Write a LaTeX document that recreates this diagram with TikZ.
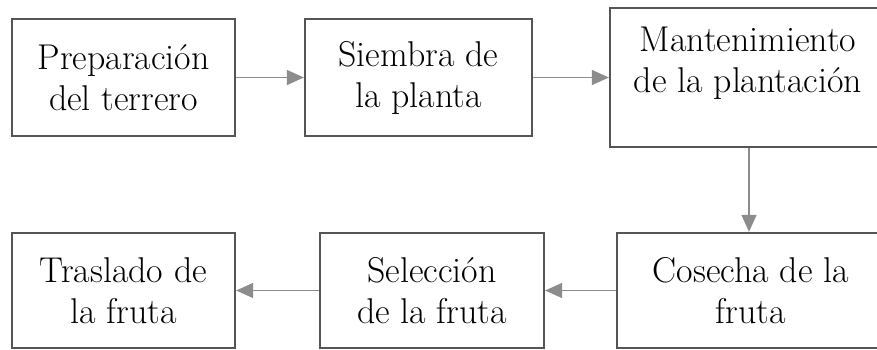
\documentclass[tikz,border=0pt]{standalone}
\usetikzlibrary{arrows.meta}

\tikzset{
  paso/.style={draw=r85g85b85, line width=0.046cm, align=center, inner sep=0pt,
    font=\fontsize{20.4}{23.3}\selectfont},
  flecha/.style={draw=r140g140b140, line width=0.026cm,
    -{Triangle[length=0.34cm,width=0.30cm]}, fill=r140g140b140}
}
\definecolor{r85g85b85}{rgb}{0.333333,0.333333,0.333333}%
\definecolor{r140g140b140}{rgb}{0.549020,0.549020,0.549020}%

\begin{document}
\begin{tikzpicture}
                        \useasboundingbox (0.000000,0.000000) rectangle (17.540000,6.980000);
                        \clip (0.000000,0.000000) rectangle (17.540000,6.980000);

                        % Drawing first row
                        \node [paso, minimum width=4.460000cm, minimum height=2.340000cm] (prep) at (2.470000,5.430000) {Preparación\\del terrero};%
                        \node [paso, minimum width=4.540000cm, minimum height=2.340000cm] (siembra) at (8.370000,5.430000) {Siembra de\\la planta};%
                        \node [paso, minimum width=5.560000cm, minimum height=2.780000cm] (mant) at (14.980000,5.430000) {};%
                        \node [align=center, inner sep=0pt, font=\fontsize{20.4}{23.3}\selectfont] (mant-txt) at (14.960000,5.720000) {Mantenimiento\\de la plantación};%

                        % Drawing second row
                        \node [paso, minimum width=5.360000cm, minimum height=2.300000cm] (cosecha) at (15.020000,1.170000) {Cosecha de la\\fruta};%
                        \node [paso, minimum width=4.480000cm, minimum height=2.300000cm] (selec) at (8.640000,1.170000) {Selección\\de la fruta};%
                        \node [paso, minimum width=4.460000cm, minimum height=2.300000cm] (traslado) at (2.470000,1.170000) {Traslado de\\la fruta};%

                        % Drawing arrows
                        \draw [flecha] (prep.east) -- (siembra.west);%
                        \draw [flecha] (siembra.east) -- (mant.west);%
                        \draw [flecha] (mant.south) -- (mant.south |- cosecha.north);%
                        \draw [flecha] (cosecha.west) -- (selec.east);%
                        \draw [flecha] (selec.west) -- (traslado.east);%
                        \end{tikzpicture}
\end{document}
